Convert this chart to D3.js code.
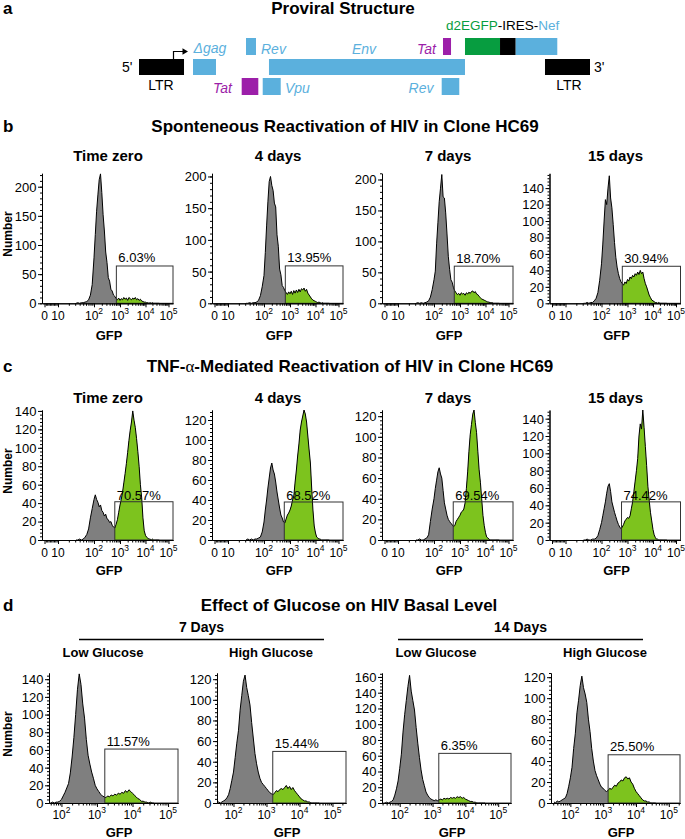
<!DOCTYPE html>
<html>
<head>
<meta charset="utf-8">
<script src="https://cdn.jsdelivr.net/npm/d3@7/dist/d3.min.js"></script>
<style>
html,body{margin:0;padding:0;background:#fff;}
svg{display:block;}
</style>
</head>
<body>
<svg id="fig" width="685" height="839"></svg>
<script>
// ================= DATA =================
// Proviral structure (approx. nucleotide positions)
const geneNames = ["LTR","Δgag","Rev","Tat","Vpu","Env","Tat","Rev","d2EGFP","IRES","Nef","LTR"];
const geneStart = [0,1164,2306,2213,2666,2801,6551,6523,7025,7780,8118,8749];
const geneEnd   = [970,1659,2521,2571,3054,7025,6724,6902,7780,8118,9014,9719];
const geneRow   = ["mid","mid","top","bot","bot","mid","top","bot","top","top","top","mid"];
const geneKind  = ["ltr","hiv","hiv","tat","hiv","hiv","tat","hiv","gfp","ires","hiv","ltr"];

// Histogram bins, log10(GFP)
const gfpLog = [1.50,1.55,1.60,1.65,1.70,1.75,1.80,1.85,1.90,1.95,
                2.00,2.05,2.10,2.15,2.20,2.25,2.30,2.35,2.40,2.45,
                2.50,2.55,2.60,2.65,2.70,2.75,2.80,2.85,2.90,2.95,
                3.00,3.05,3.10,3.15,3.20,3.25,3.30,3.35,3.40,3.45,
                3.50,3.55,3.60,3.65,3.70,3.75,3.80,3.85,3.90,3.95,
                4.00,4.05,4.10,4.15,4.20,4.25,4.30,4.35,4.40,4.45,
                4.50,4.55,4.60];

// Panel b: spontaneous reactivation
const sponTimeZero = [0,1,0,1,1,2,3,6,14,32, 78,118,158,186,212,222,190,152,124,88, 70,44,38,24,21,14,12,8,6,9, 5,8,6,10,7,9,5,10,8,6, 9,7,10,6,8,5,7,4,3,2, 2,1,1,0,1,0,1,0,0,0, 0,0,0];
const spon4d       = [0,0,1,0,1,1,2,5,12,26, 44,80,122,160,192,200,186,178,158,152, 108,90,54,45,28,25,20,17,14,18, 15,19,14,20,16,21,17,22,18,23, 21,24,19,22,16,13,10,7,5,4, 3,2,1,2,1,0,1,0,0,0, 0,0,0];
const spon7d       = [0,1,0,1,0,1,2,4,10,22, 38,52,96,130,164,186,208,172,170,146, 112,76,55,38,34,25,20,17,14,16, 13,17,15,16,13,17,15,18,16,19, 20,17,19,15,14,11,9,7,6,5, 4,3,2,2,1,1,1,0,0,0, 0,0,0];
const spon15d      = [0,0,1,0,1,1,3,6,13,28, 48,72,100,126,120,140,155,128,116,96, 74,56,44,36,30,26,24,22,26,24, 29,27,32,30,34,32,36,34,38,35, 40,36,38,30,24,20,15,10,7,4, 3,2,1,1,0,1,0,0,0,0, 0,0,0];
const bTitles  = ["Time zero","4 days","7 days","15 days"];
const bPercent = ["6.03%","13.95%","18.70%","30.94%"];
const bYMax    = [223, 205, 210, 158];
const bYTicks  = [[0,50,100,150,200],[0,50,100,150,200],[0,50,100,150,200],[0,20,40,60,80,100,120,140]];
const bGateLeft = [2.86, 2.82, 2.78, 2.80];
const bGateTop  = [64, 59, 60, 45];

// Panel c: TNF-alpha mediated reactivation
const tnfTimeZero = [0,0,1,0,1,3,6,12,24,34, 44,49,44,41,36,38,32,30,26,28, 23,22,19,20,16,14,13,17,22,30, 38,44,52,62,72,83,95,108,119,128, 140,130,122,110,96,80,60,46,24,10, 5,3,2,1,1,0,1,0,0,0, 0,0,0];
const tnf4d       = [0,1,0,1,0,1,1,2,3,8, 18,30,40,52,62,72,77,70,66,58, 48,40,32,25,22,18,17,21,25,27, 30,34,40,44,58,70,84,96,110,118, 124,130,126,118,104,90,77,52,30,14, 7,3,2,1,1,0,0,0,0,0, 0,0,0];
const tnf7d       = [0,0,1,0,0,1,2,5,18,30, 40,50,58,66,70,64,60,48,36,30, 24,20,18,16,15,13,14,18,20,22, 24,27,28,30,36,50,66,86,102,112, 122,126,114,104,86,68,56,40,24,14, 7,3,2,1,0,0,0,0,0,0, 0,0,0];
const tnf15d      = [0,0,1,0,0,1,1,2,5,12, 20,28,36,44,54,62,65,56,44,38, 32,27,22,18,15,13,15,18,22,24, 26,25,28,36,44,56,68,80,94,120, 134,128,150,130,108,86,62,46,32,22, 12,6,3,1,1,0,0,0,0,0, 0,0,0];
const cTitles  = ["Time zero","4 days","7 days","15 days"];
const cPercent = ["70.57%","68.52%","69.54%","74.42%"];
const cYMax    = [141, 130, 126, 150];
const cYTicks  = [[0,20,40,60,80,100,120,140],[0,20,40,60,80,100,120],[0,20,40,60,80,100,120],[0,20,40,60,80,100,120,140]];
const cGateLeft = [2.80, 2.78, 2.74, 2.77];
const cGateTop  = [41.5, 38, 37, 44];

// Panel d: glucose
const glc7Low   = [0,0,0,0,0,1,0,1,1,2, 4,8,12,17,22,34,52,74,100,128, 146,134,112,96,72,54,44,35,28,20, 16,13,10,8,7,6,8,7,9,8, 10,9,11,10,12,11,14,12,15,13, 11,9,7,5,4,2,2,1,1,0, 1,0,0];
const glc7High  = [0,1,0,1,2,3,5,8,14,22, 30,44,58,70,90,104,118,124,112,104, 95,78,63,48,38,30,24,20,18,16, 14,12,10,9,8,10,12,11,13,14, 13,15,17,14,16,13,15,12,10,8, 6,4,3,2,2,1,1,0,0,0, 0,0,0];
const glc14Low  = [0,0,1,0,1,2,4,10,18,28, 44,62,90,112,130,148,162,142,130,118, 96,76,58,42,30,22,14,10,7,5, 4,3,4,3,4,5,4,6,5,6, 5,7,6,7,6,8,7,8,6,7, 5,4,3,2,2,1,1,0,0,0, 0,0,0];
const glc14High = [1,0,2,1,2,3,4,5,9,16, 24,34,52,66,86,98,112,121,110,104, 96,80,68,52,40,31,26,22,18,15, 14,12,11,12,14,13,15,17,16,19, 20,22,21,24,25,23,24,20,18,14, 11,9,7,5,3,2,2,1,1,0, 0,0,0];
const dGroups  = ["7 Days","14 Days"];
const dTitles  = ["Low Glucose","High Glucose","Low Glucose","High Glucose"];
const dPercent = ["11.57%","15.44%","6.35%","25.50%"];
const dYMax    = [147, 126, 165, 124];
const dYTicks  = [[0,20,40,60,80,100,120,140],[0,20,40,60,80,100,120],[0,20,40,60,80,100,120,140,160],[0,20,40,60,80,100,120]];
const dXDomain = [[1.65,5.28],[1.50,5.41],[1.46,5.39],[1.41,5.34]];
const dGateLeft = [3.22, 3.19, 3.19, 3.15];
const dGateTop  = [61, 50, 63, 46];

const biexTicks = [0,1,2,3,4,5];   // 0, 10, 10^2 ... 10^5
const logTicks  = [2,3,4,5];       // 10^2 ... 10^5

// ================= DRAWING =================
const FONT = '"Liberation Sans", Arial, Helvetica, sans-serif';
const BLUE = "#5bb0dd", PURPLE = "#9c1fa9", DGREEN = "#079d40";
const GRAY = "#7f7f7f", LIME = "#7dc31e";

const svg = d3.select("#fig").style("font-family", FONT);
svg.append("rect").attr("width", 685).attr("height", 839).attr("fill", "#fff");
const defs = svg.append("defs");

function txt(x, y, s, o = {}) {
  const t = svg.append("text").attr("x", x).attr("y", y).text(s)
    .attr("font-size", o.size || 13).attr("font-weight", o.weight || "normal")
    .attr("text-anchor", o.anchor || "start").attr("fill", o.fill || "#000");
  if (o.style) t.attr("font-style", o.style);
  return t;
}

// ---------- Panel a ----------
txt(3, 14, "a", {size: 17, weight: "bold"});
txt(343, 14, "Proviral Structure", {size: 17, weight: "bold", anchor: "middle"});
const gx = d3.scaleLinear().domain([0, 9719]).range([139, 590]);
const rowBox = {top: [38, 17], mid: [59, 16], bot: [78, 17]};
const kindColor = {ltr: "#000", hiv: BLUE, tat: PURPLE, gfp: DGREEN, ires: "#000"};
geneNames.forEach((n, i) => {
  svg.append("rect")
    .attr("x", gx(geneStart[i])).attr("y", rowBox[geneRow[i]][0])
    .attr("width", gx(geneEnd[i]) - gx(geneStart[i])).attr("height", rowBox[geneRow[i]][1])
    .attr("fill", kindColor[geneKind[i]]);
});
// promoter arrow
svg.append("path").attr("d", "M173.5,59 V51.5 H183").attr("fill", "none").attr("stroke", "#000").attr("stroke-width", 1.2);
svg.append("path").attr("d", "M182.5,48.3 L188,51.5 L182.5,54.7 Z").attr("fill", "#000");
txt(122, 72, "5'", {size: 14});
txt(161, 90, "LTR", {size: 14, anchor: "middle"});
txt(594, 72, "3'", {size: 14});
txt(569, 90, "LTR", {size: 14, anchor: "middle"});
txt(193.5, 53, "Δgag", {size: 14, style: "italic", fill: BLUE});
txt(261, 54, "Rev", {size: 14, style: "italic", fill: BLUE});
txt(352, 54, "Env", {size: 14, style: "italic", fill: BLUE});
txt(417, 54, "Tat", {size: 14, style: "italic", fill: PURPLE});
txt(232, 93, "Tat", {size: 14, style: "italic", fill: PURPLE, anchor: "end"});
txt(285, 93, "Vpu", {size: 14, style: "italic", fill: BLUE});
txt(433.5, 93, "Rev", {size: 14, style: "italic", fill: BLUE, anchor: "end"});
const lab = txt(446, 30, "", {size: 13.5});
lab.append("tspan").attr("fill", DGREEN).text("d2EGFP");
lab.append("tspan").attr("fill", "#000").text("-IRES-");
lab.append("tspan").attr("fill", BLUE).text("Nef");

// ---------- Histogram helper ----------
function tickLabel(sel, t) {
  if (t === 0) { sel.text("0"); return; }
  sel.append("tspan").text("10");
  if (t > 1) sel.append("tspan").attr("font-size", 8.5).attr("dy", -5.5).text(String(t));
}

function drawChart(o) {
  const H = 130;
  const ys = d3.scaleLinear().domain([0, o.yMax]).range([o.zeroY, o.zeroY - H]);
  const g = svg.append("g").attr("transform", `translate(${o.x0},0)`);
  defs.append("clipPath").attr("id", "p" + o.id).append("rect")
    .attr("x", 0).attr("y", o.zeroY - H - 1).attr("width", o.width).attr("height", H + 1);
  const gl = o.xs(o.gateLeft);
  defs.append("clipPath").attr("id", "g" + o.id).append("rect")
    .attr("x", gl).attr("y", o.zeroY - H - 1).attr("width", o.width - gl).attr("height", H + 1);
  const pts = gfpLog.map((t, i) => [t, o.counts[i]]);
  const area = d3.area().x(d => o.xs(d[0])).y0(o.zeroY).y1(d => ys(d[1]));
  const line = d3.line().x(d => o.xs(d[0])).y(d => ys(d[1]));
  const pg = g.append("g").attr("clip-path", `url(#p${o.id})`);
  pg.append("path").attr("d", area(pts)).attr("fill", GRAY);
  pg.append("path").attr("d", area(pts)).attr("fill", LIME).attr("clip-path", `url(#g${o.id})`);
  pg.append("path").attr("d", line(pts)).attr("fill", "none").attr("stroke", "#000")
    .attr("stroke-width", 1).attr("stroke-linejoin", "round");
  // gate
  const gt = ys(o.gateTop);
  g.append("rect").attr("x", gl).attr("y", gt).attr("width", o.width - gl).attr("height", o.zeroY - gt)
    .attr("fill", "none").attr("stroke", "#333").attr("stroke-width", 1);
  // y axis
  const step = o.yTicks[1] - o.yTicks[0];
  const yMinor = [];
  for (let v = 0; v <= o.yMax + 1e-6; v += step / 5) yMinor.push(v);
  g.append("g").call(d3.axisLeft(ys).tickValues(yMinor).tickSize(2).tickFormat("").tickSizeOuter(0));
  const ya = g.append("g").call(d3.axisLeft(ys).tickValues(o.yTicks).tickSize(4).tickSizeOuter(0).tickPadding(1.5));
  ya.selectAll("text").attr("font-size", 13).attr("font-family", FONT).attr("fill", "#000").attr("dy", "0.34em");
  // x axis
  g.append("g").attr("transform", `translate(0,${o.zeroY})`)
    .call(d3.axisBottom(o.xs).tickValues(o.xMinor).tickSize(2.5).tickFormat("").tickSizeOuter(0));
  g.append("g").attr("transform", `translate(0,${o.zeroY})`)
    .call(d3.axisBottom(o.xs).tickValues(o.xMajor).tickSize(4).tickFormat("").tickSizeOuter(0));
  o.xMajor.forEach(t => {
    const tl = g.append("text").attr("x", o.xs(t)).attr("y", o.zeroY + o.labDy)
      .attr("font-size", 12).attr("text-anchor", "middle").attr("fill", "#000");
    tickLabel(tl, t);
  });
  // percent
  txt(o.x0 + gl + 2, gt - o.pctGap, o.pct, {size: 13});
}

// b/c axis scale: 0..10 linear, then log decades
function biexScale() {
  return d3.scaleLinear().domain([-0.185, 0, 1, 2, 3, 4, 5, 5.2]).range([0, 2.5, 16, 52, 78, 103.5, 126.5, 131]);
}
const biexMinor = [];
for (let k = 1; k <= 9; k++) biexMinor.push(k / 10);
for (let d = 1; d <= 4; d++) for (let k = 2; k <= 9; k++) biexMinor.push(d + Math.log10(k));

const colsBC = [42, 212, 382, 549.5];
const colsD = [49, 217, 382, 551];

// ---------- Panel b ----------
txt(3, 132, "b", {size: 17, weight: "bold"});
txt(345, 132, "Sponteneous Reactivation of HIV in Clone HC69", {size: 17, weight: "bold", anchor: "middle"});
const bCounts = [sponTimeZero, spon4d, spon7d, spon15d];
bCounts.forEach((c, i) => {
  drawChart({id: "b" + i, x0: colsBC[i], zeroY: 303.3, width: 131, xs: biexScale(),
    xMajor: biexTicks, xMinor: biexMinor, yMax: bYMax[i], yTicks: bYTicks[i], counts: c,
    gateLeft: bGateLeft[i], gateTop: bGateTop[i], pct: bPercent[i], pctGap: 3.5, labDy: 16.5});
  txt(colsBC[i] + 66, 161, bTitles[i], {size: 15, weight: "bold", anchor: "middle"});
  txt(colsBC[i] + 67, 339.5, "GFP", {size: 13, weight: "bold", anchor: "middle"});
});

// ---------- Panel c ----------
txt(3, 372, "c", {size: 17, weight: "bold"});
const ct = txt(350, 372, "", {size: 17, weight: "bold", anchor: "middle"});
ct.append("tspan").text("TNF-");
ct.append("tspan").attr("font-weight", "normal").attr("font-family", '"Liberation Serif", "DejaVu Serif", serif').text("α");
ct.append("tspan").text("-Mediated Reactivation of HIV in Clone HC69");
const cCounts = [tnfTimeZero, tnf4d, tnf7d, tnf15d];
cCounts.forEach((c, i) => {
  drawChart({id: "c" + i, x0: colsBC[i], zeroY: 540, width: 131, xs: biexScale(),
    xMajor: biexTicks, xMinor: biexMinor, yMax: cYMax[i], yTicks: cYTicks[i], counts: c,
    gateLeft: cGateLeft[i], gateTop: cGateTop[i], pct: cPercent[i], pctGap: 1.8, labDy: 16.5});
  txt(colsBC[i] + 66, 402.5, cTitles[i], {size: 15, weight: "bold", anchor: "middle"});
  txt(colsBC[i] + 67, 575, "GFP", {size: 13, weight: "bold", anchor: "middle"});
});

// ---------- Panel d ----------
txt(3, 611, "d", {size: 17, weight: "bold"});
txt(349, 611, "Effect of Glucose on HIV Basal Level", {size: 17, weight: "bold", anchor: "middle"});
const groupSpan = [[79, 324], [398, 643]];
dGroups.forEach((s, i) => {
  txt((groupSpan[i][0] + groupSpan[i][1]) / 2, 632, s, {size: 14, weight: "bold", anchor: "middle"});
  svg.append("line").attr("x1", groupSpan[i][0]).attr("x2", groupSpan[i][1])
    .attr("y1", 639.5).attr("y2", 639.5).attr("stroke", "#000").attr("stroke-width", 1.5);
});
const dCounts = [glc7Low, glc7High, glc14Low, glc14High];
dCounts.forEach((c, i) => {
  const xs = d3.scaleLinear().domain(dXDomain[i]).range([0, 129]);
  const minor = [];
  for (let d = 1; d <= 5; d++) for (let k = 2; k <= 9; k++) {
    const v = d + Math.log10(k);
    if (v >= dXDomain[i][0] && v <= dXDomain[i][1]) minor.push(v);
  }
  drawChart({id: "d" + i, x0: colsD[i], zeroY: 803, width: 129, xs: xs,
    xMajor: logTicks, xMinor: minor, yMax: dYMax[i], yTicks: dYTicks[i], counts: c,
    gateLeft: dGateLeft[i], gateTop: dGateTop[i], pct: dPercent[i], pctGap: 3.3, labDy: 15.5});
  txt(colsD[i] + 54, 657, dTitles[i], {size: 13, weight: "bold", anchor: "middle"});
  txt(colsD[i] + 70, 836.5, "GFP", {size: 13, weight: "bold", anchor: "middle"});
});

// "Number" axis titles
[234, 471, 734].forEach(cy => {
  svg.append("text").attr("transform", `translate(12,${cy}) rotate(-90)`)
    .attr("text-anchor", "middle").attr("font-size", 12).attr("font-weight", "bold").text("Number");
});
</script>
</body>
</html>
